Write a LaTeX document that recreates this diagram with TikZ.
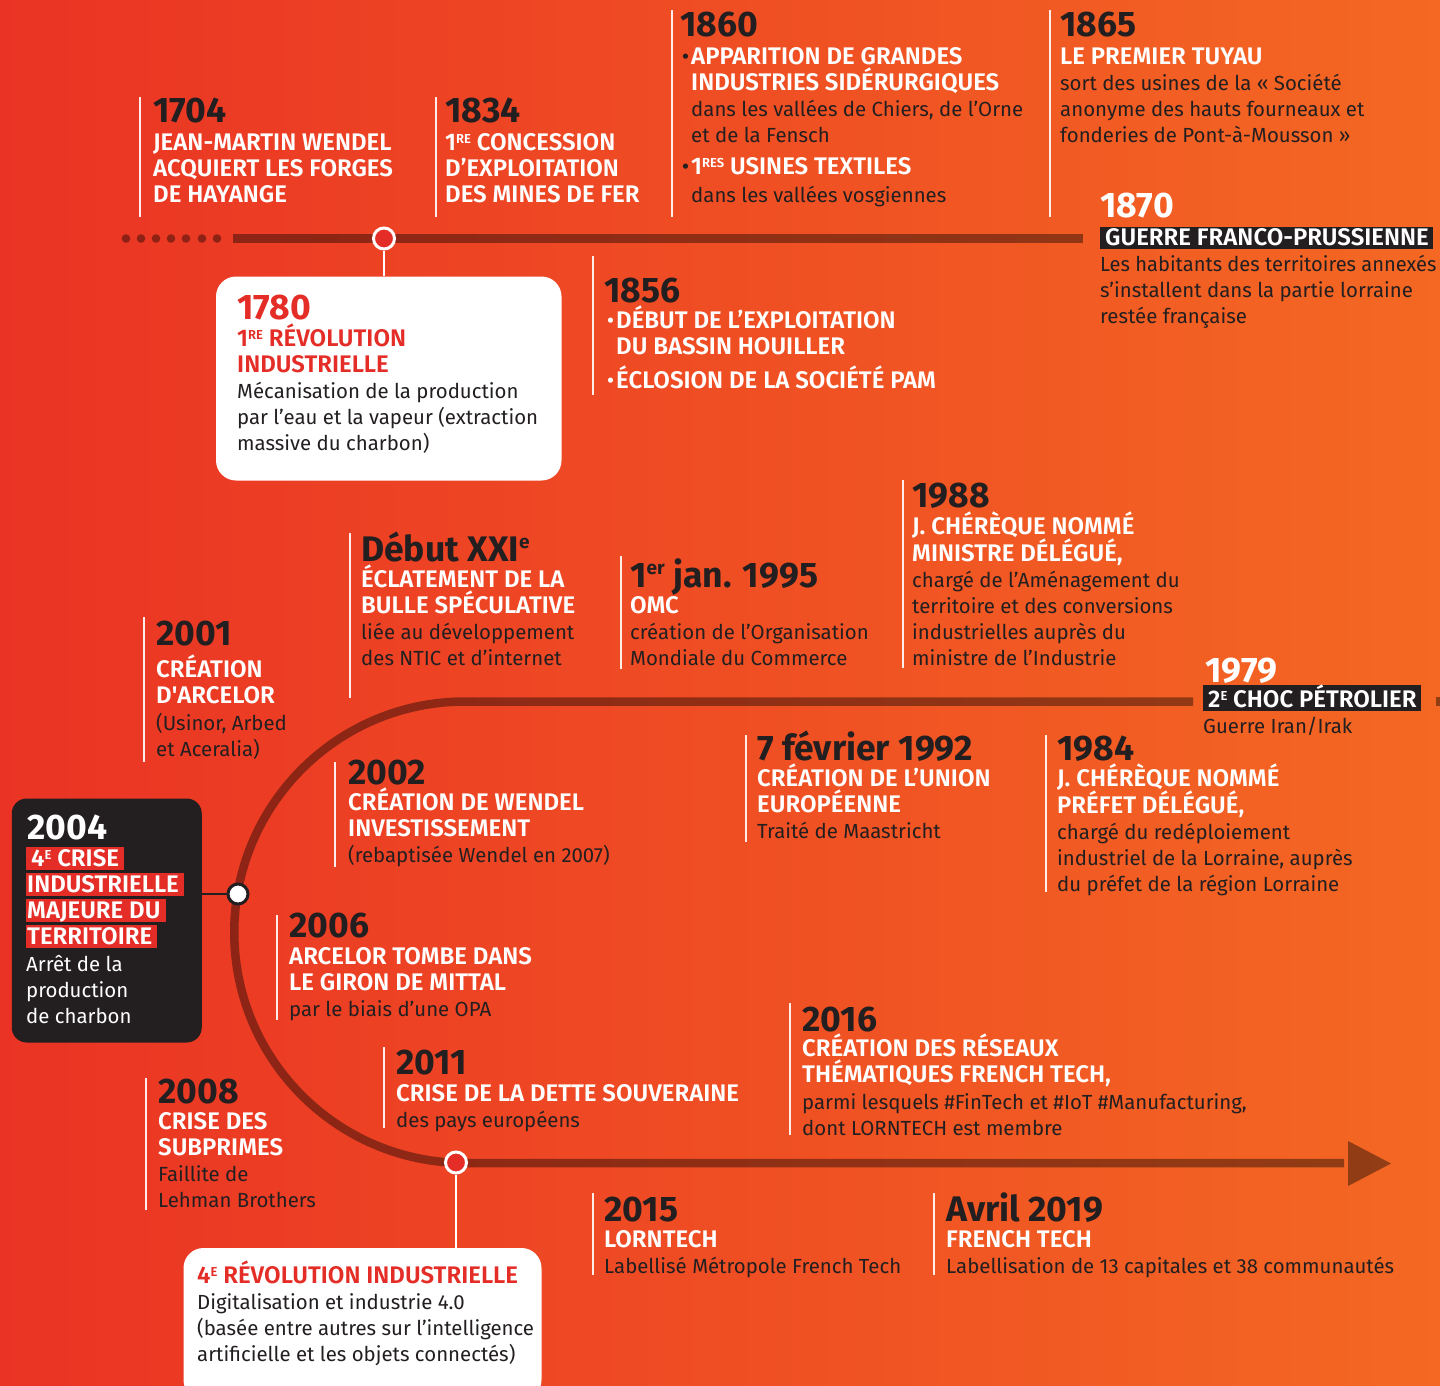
\documentclass[tikz,border=0pt]{standalone}
\usepackage{fontspec}
\setmainfont{Fira Sans}
\IfFontExistsTF{Fira Sans SemiBold}{\newfontfamily\fsemi{Fira Sans SemiBold}}{\newcommand\fsemi{\bfseries}}
\definecolor{dk}{RGB}{35,31,32}
\definecolor{rd}{RGB}{229,45,39}
\definecolor{bgL}{RGB}{234,51,36}
\definecolor{bgR}{RGB}{244,104,35}
\newcommand\supr[1]{\raisebox{7pt}{\fontsize{13}{13}\selectfont #1}}
\newcommand\ysup[1]{\raisebox{13pt}{\fontsize{19}{19}\selectfont #1}}
\newcommand\hd[1]{{\fsemi\fontsize{24}{26}\selectfont #1}}
\newcommand\bd[1]{{\color{dk}#1}}
\newcommand\fl{\rule{0pt}{24pt}}
\newcommand\hlr[1]{{\setlength\fboxsep{0pt}\colorbox{rd}{\rule[-3.5pt]{0pt}{23pt}\hspace{1pt}#1\hspace{5pt}}}}
\newcommand\hlk[1]{{\setlength\fboxsep{0pt}\colorbox{dk}{\rule[-4pt]{0pt}{22pt}\hspace{5pt}#1\hspace{4pt}}}}
\newcommand\buld{\llap{\color{dk}\fontsize{23}{23}\selectfont •\hspace{2pt}}}
\newcommand\bulw{\llap{\color{white}\fontsize{23}{23}\selectfont •\hspace{2pt}}}
\tikzset{
  yr/.style={anchor=base west, inner sep=0pt, text=dk, font=\fontsize{35.5}{36}\selectfont\bfseries},
  tb/.style={anchor=north west, yshift=24pt, inner sep=0pt, align=left, text=white, font=\fontsize{20.4}{26}\selectfont},
  mk/.style={draw=white, line width=2pt, draw opacity=0.9},
  tl/.style={draw=black, draw opacity=0.4, line width=8.5pt},
  tlc/.style={fill=black, fill opacity=0.4},
  circr/.style={circle, fill=rd, draw=white, line width=3pt, minimum size=21pt, inner sep=0pt},
  circw/.style={circle, fill=white, draw=dk, line width=3pt, minimum size=20pt, inner sep=0pt},
  wline/.style={draw=white, line width=2.5pt},
  dline/.style={draw=dk, line width=2.5pt},
  wbox/.style={fill=white, rounded corners=20pt, inner sep=0pt},
  dbox/.style={fill=dk, rounded corners=15pt, inner sep=0pt}
}
\begin{document}
\begin{tikzpicture}[x=1pt,y=-1pt]
\useasboundingbox (0,0) rectangle (1440,1386);
\fill[left color=bgL, right color=bgR] (0,0) rectangle (1440,1386);

% ---- timelines ----
\foreach \x in {126,141,156,171,186,202,217} \fill[tlc] (\x,238.5) circle[radius=4.3];
\draw[tl] (233,238.5) -- (1083,238.5);
\draw[tl] (1193,701.5) -- (465,701.5) arc[start angle=270, end angle=90, radius=230.75] -- (1344,1163);
\draw[tl] (1436,701.5) -- (1445,701.5);
\fill[tlc] (1348,1141) -- (1391,1163.5) -- (1348,1186) -- cycle;

% ---- boxes ----
\node[wbox, minimum width=345.5pt, minimum height=204pt] (b1780) at (388.75,378.5) {};
\node[dbox, minimum width=190pt, minimum height=244pt] (b2004) at (106.75,920.5) {};
\node[wbox, minimum width=358pt, minimum height=152pt] (b4r) at (362.5,1324) {};

% ---- markers on timeline ----
\node[circr] (c1780) at (384,238.5) {};
\draw[wline] (c1780) -- (c1780 |- b1780.north);
\node[circw] (c2004) at (238,894) {};
\draw[dline] (b2004.east |- c2004) -- (c2004);
\node[circr] (c2011) at (456,1162.5) {};
\draw[wline] (c2011) -- (c2011 |- b4r.north);

% ---- 1704 ----
\draw[mk] (140,97) -- (140,217);
\node[yr] (y1704) at (153,123) {1704};
\node[tb] (t1704) at (153,150) {\fl\hd{JEAN-MARTIN WENDEL}\\\hd{ACQUIERT LES FORGES}\\\hd{DE HAYANGE}};

% ---- 1834 ----
\draw[mk] (436,97) -- (436,217);
\node[yr] (y1834) at (445,123) {1834};
\node[tb] (t1834) at (445,150) {\fl\hd{1\supr{RE} CONCESSION}\\\hd{D’EXPLOITATION}\\\hd{DES MINES DE FER}};

% ---- 1860 ----
\draw[mk] (672,10) -- (672,217);
\node[yr] (y1860) at (680,37) {1860};
\node[tb] (t1860) at (691,64) {\fl\buld\hd{APPARITION DE GRANDES}\\\hd{INDUSTRIES SIDÉRURGIQUES}\\\bd{dans les vallées de Chiers, de l’Orne}\\\bd{et de la Fensch}\\[6pt]\buld\hd{1\supr{RES} USINES TEXTILES}\\[2pt]\bd{dans les vallées vosgiennes}};

% ---- 1865 ----
\draw[mk] (1050,10) -- (1050,217);
\node[yr] (y1865) at (1060,37) {1865};
\node[tb] (t1865) at (1060,64) {\fl\hd{LE PREMIER TUYAU}\\\bd{sort des usines de la « Société}\\\bd{anonyme des hauts fourneaux et}\\\bd{fonderies de Pont-à-Mousson »}};

% ---- 1870 ----
\node[yr, text=white] (y1870) at (1100,217) {1870};
\node[tb] (t1870) at (1100,245) {\fl\hlk{\hd{GUERRE FRANCO-PRUSSIENNE}}\\\bd{\scalebox{0.985}[1]{Les habitants des territoires annexés}}\\\bd{s’installent dans la partie lorraine}\\\bd{restée française}};

% ---- 1780 ----
\node[yr, text=rd] (y1780) at (237,319.5) {1780};
\node[tb, text=rd] (t1780) at (237,346) {\fl\hd{1\supr{RE} RÉVOLUTION}\\\hd{INDUSTRIELLE}\\\bd{Mécanisation de la production}\\\bd{par l’eau et la vapeur (extraction}\\\bd{massive du charbon)}};

% ---- 1856 ----
\draw[mk] (593,256) -- (593,395);
\node[yr] (y1856) at (604,302) {1856};
\node[tb] (t1856) at (616,328) {\fl\bulw\hd{DÉBUT DE L’EXPLOITATION}\\\hd{DU BASSIN HOUILLER}\\[8pt]\bulw\hd{ÉCLOSION DE LA SOCIÉTÉ PAM}};

% ---- Debut XXIe ----
\draw[mk] (350,533) -- (350,698);
\node[yr] (yxxi) at (361,561) {Début XXI\ysup{e}};
\node[tb] (txxi) at (361,587) {\fl\hd{ÉCLATEMENT DE LA}\\\hd{BULLE SPÉCULATIVE}\\\bd{liée au développement}\\\bd{des NTIC et d’internet}};

% ---- 1995 ----
\draw[mk] (621,556) -- (621,669);
\node[yr] (y1995) at (630,587) {1\ysup{er} jan. 1995};
\node[tb] (t1995) at (630,613) {\fl\hd{OMC}\\\bd{création de l’Organisation}\\\bd{Mondiale du Commerce}};

% ---- 1988 ----
\draw[mk] (903,480) -- (903,668);
\node[yr] (y1988) at (912,507) {1988};
\node[tb] (t1988) at (912,534) {\fl\hd{J. CHÉRÈQUE NOMMÉ}\\\hd{MINISTRE DÉLÉGUÉ,}\\\bd{chargé de l’Aménagement du}\\\bd{territoire et des conversions}\\\bd{industrielles auprès du}\\\bd{ministre de l’Industrie}};

% ---- 2001 ----
\draw[mk] (144,617) -- (144,762);
\node[yr] (y2001) at (156,645) {2001};
\node[tb] (t2001) at (156,677) {\fl\hd{CRÉATION}\\[0.5pt]\hd{D\textquotesingle ARCELOR}\\[0.5pt]\bd{(Usinor, Arbed}\\\bd{et Aceralia)}};

% ---- 1979 ----
\node[yr, text=white] (y1979) at (1205,682) {1979};
\node[tb] (t1979) at (1203,707) {\fl\hlk{\hd{2\supr{E} CHOC PÉTROLIER}}\\\bd{Guerre Iran/Irak}};

% ---- 1992 ----
\draw[mk] (746,735) -- (746,842);
\node[yr] (y1992) at (757,760) {7 février 1992};
\node[tb] (t1992) at (757,786) {\fl\hd{CRÉATION DE L’UNION}\\\hd{EUROPÉENNE}\\\bd{Traité de Maastricht}};

% ---- 1984 ----
\draw[mk] (1046,735) -- (1046,892);
\node[yr] (y1984) at (1057,760) {1984};
\node[tb] (t1984) at (1057,786) {\fl\hd{J. CHÉRÈQUE NOMMÉ}\\\hd{PRÉFET DÉLÉGUÉ,}\\\bd{chargé du redéploiement}\\\bd{industriel de la Lorraine, auprès}\\\bd{du préfet de la région Lorraine}};

% ---- 2002 ----
\draw[mk] (335,762) -- (335,867);
\node[yr] (y2002) at (348,784) {2002};
\node[tb] (t2002) at (348,810) {\fl\hd{CRÉATION DE WENDEL}\\\hd{INVESTISSEMENT}\\\bd{(rebaptisée Wendel en 2007)}};

% ---- 2004 ----
\node[yr, text=white] (y2004) at (27,839) {2004};
\node[tb] (t2004) at (26,866) {\fl\hlr{\hd{\,4\supr{E} CRISE}}\\\hlr{\hd{INDUSTRIELLE}}\\\hlr{\hd{MAJEURE DU}}\\\hlr{\hd{TERRITOIRE}}\\[1pt]Arrêt de la\\production\\de charbon};

% ---- 2006 ----
\draw[mk] (277,915) -- (277,1020);
\node[yr] (y2006) at (289,937) {2006};
\node[tb] (t2006) at (289,964) {\fl\hd{ARCELOR TOMBE DANS}\\\hd{LE GIRON DE MITTAL}\\\bd{par le biais d’une OPA}};

% ---- 2011 ----
\draw[mk] (384,1047) -- (384,1128);
\node[yr] (y2011) at (396,1074) {2011};
\node[tb] (t2011) at (396,1101) {\fl\hd{CRISE DE LA DETTE SOUVERAINE}\\\bd{des pays européens}};

% ---- 2008 ----
\draw[mk] (146,1078) -- (146,1210);
\node[yr] (y2008) at (158,1103) {2008};
\node[tb] (t2008) at (158,1129) {\fl\hd{CRISE DES}\\\hd{SUBPRIMES}\\\bd{Faillite de}\\\bd{Lehman Brothers}};

% ---- 2016 ----
\draw[mk] (790,1003) -- (790,1135);
\node[yr] (y2016) at (802,1031) {2016};
\node[tb] (t2016) at (802,1056) {\fl\hd{CRÉATION DES RÉSEAUX}\\\hd{THÉMATIQUES FRENCH TECH,}\\[1pt]\bd{parmi lesquels \#FinTech et \#IoT \#Manufacturing,}\\\bd{dont LORNTECH est membre}};

% ---- 4e revolution ----
\node[tb, text=rd] (t4r) at (197,1283) {\fl\hd{4\supr{E} RÉVOLUTION INDUSTRIELLE}\\\bd{Digitalisation et industrie 4.0}\\\bd{(basée entre autres sur l’intelligence}\\\bd{artificielle et les objets connectés)}};

% ---- 2015 ----
\draw[mk] (593,1193) -- (593,1275);
\node[yr] (y2015) at (604,1221) {2015};
\node[tb] (t2015) at (604,1247) {\fl\hd{LORNTECH}\\\bd{Labellisé Métropole French Tech}};

% ---- 2019 ----
\draw[mk] (934,1193) -- (934,1275);
\node[yr] (y2019) at (946,1221) {Avril 2019};
\node[tb] (t2019) at (946,1247) {\fl\hd{FRENCH TECH}\\\bd{Labellisation de 13 capitales et 38 communautés}};
\end{tikzpicture}
\end{document}
